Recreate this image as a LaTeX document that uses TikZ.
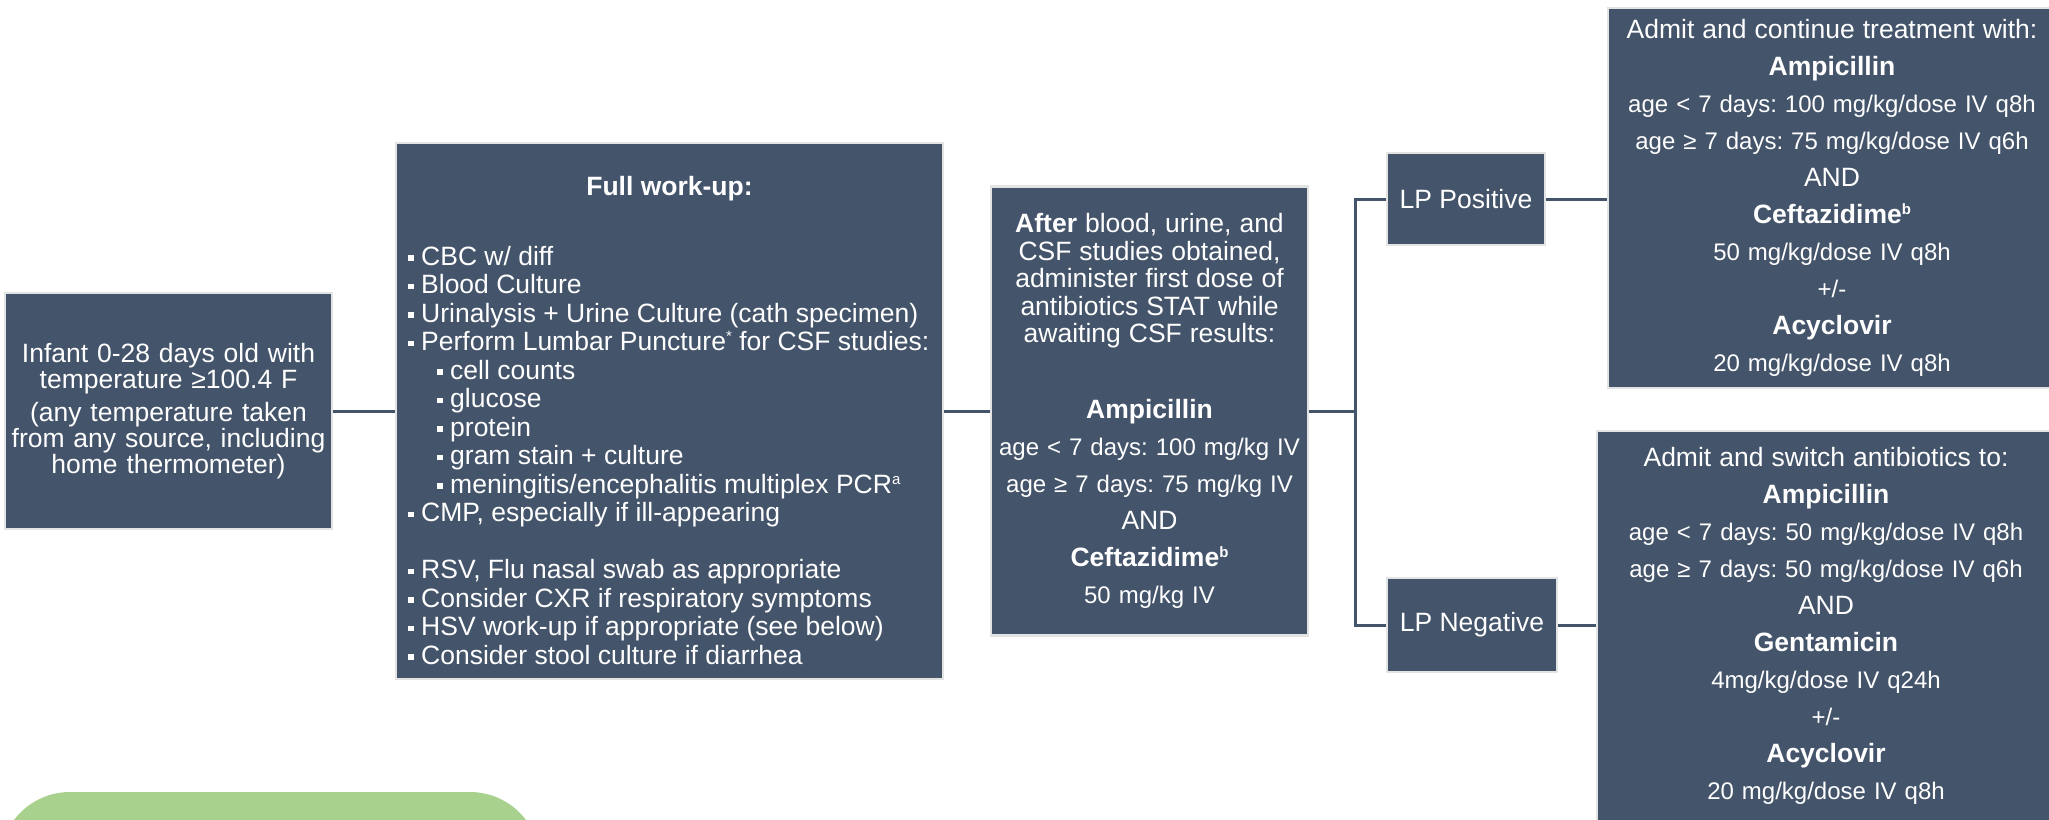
\documentclass[tikz,border=0pt]{standalone}
\usepackage{fontspec}
\setmainfont{Liberation Sans}
\usetikzlibrary{positioning}
\definecolor{slate}{HTML}{44546A}
\definecolor{rim}{HTML}{E3E3E3}
\definecolor{leaf}{HTML}{A9D18E}
\frenchspacing
\newcommand{\sqb}{\rule[4.5pt]{5.5pt}{5.5pt}\hspace*{7.5pt}}
\newcommand{\subsq}{\hspace*{29pt}\sqb}
\newcommand{\sups}[1]{\raisebox{9pt}{\fontsize{15}{15}\selectfont #1}}
\newcommand{\bigline}[1]{{\fontsize{26.5}{37}\selectfont #1}}
\begin{document}
\begin{tikzpicture}[x=1pt,y=-1pt,
    box/.style={draw=rim,line width=2.5pt,fill=slate,text=white,inner sep=0pt,
      execute at begin node={\parindent=0pt\frenchspacing}},
    link/.style={draw=slate,line width=3pt}]
    \useasboundingbox (0,0) rectangle (2049,819);

    \fill[leaf,rounded corners=70pt] (0,792) rectangle (540,890);

    \coordinate (split) at (1355,411);

    \node[box,minimum width=327pt,minimum height=236pt,text width=322pt,align=center,
      font=\fontsize{26.5}{26}\selectfont] (infant) at (168.5,411)
      {Infant 0-28 days old with\\temperature ≥100.4 F\\[7pt](any temperature taken\\from any source, including\\home thermometer)};

    \node[box,minimum width=547pt,minimum height=536pt] (workup) at (669.5,411) {};
    \node[text=white,inner sep=0pt,font=\fontsize{26.5}{28.5}\selectfont\bfseries] (workuphead) at (669.5,189) {Full work-up:};
    \node[text=white,inner sep=0pt,anchor=north west,align=left,font=\fontsize{26.5}{28.5}\selectfont] (worklist) at (408,246)
      {\sqb CBC w/ diff\\
       \sqb Blood Culture\\
       \sqb Urinalysis + Urine Culture (cath specimen)\\
       \sqb Perform Lumbar Puncture\sups{*} for CSF studies:\\
       \subsq cell counts\\
       \subsq glucose\\
       \subsq protein\\
       \subsq gram stain + culture\\
       \subsq meningitis/encephalitis multiplex PCR\sups{a}\\
       \sqb CMP, especially if ill-appearing\\[28.5pt]
       \sqb RSV, Flu nasal swab as appropriate\\
       \sqb Consider CXR if respiratory symptoms\\
       \sqb HSV work-up if appropriate (see below)\\
       \sqb Consider stool culture if diarrhea};

    \node[box,minimum width=317pt,minimum height=449pt,text width=310pt,align=center,
      font=\fontsize{24}{37}\selectfont] (firstdose) at (1149.5,411)
      {{\fontsize{26.5}{27.5}\selectfont\textbf{After} blood, urine, and\\CSF studies obtained,\\administer first dose of\\antibiotics STAT while\\awaiting CSF results:\par}
       \vspace{39pt}
       \bigline{\bfseries Ampicillin}\\
       age < 7 days: 100 mg/kg IV\\
       age ≥ 7 days: 75 mg/kg IV\\
       \bigline{AND}\\
       \bigline{\bfseries Ceftazidime\sups{b}}\\
       50 mg/kg IV};

    \node[box,minimum width=158pt,minimum height=92pt,font=\fontsize{26.5}{30}\selectfont] (lppos) at (1466,199) {LP Positive};
    \node[box,minimum width=170pt,minimum height=94pt,font=\fontsize{26.5}{30}\selectfont] (lpneg) at (1472,625) {LP Negative};

    \node[box,minimum width=448pt,minimum height=380pt,text width=440pt,align=center,
      font=\fontsize{24}{37}\selectfont] (keepon) at (1832,198)
      {\bigline{Admit and continue treatment with:}\\
       \bigline{\bfseries Ampicillin}\\
       age < 7 days: 100 mg/kg/dose IV q8h\\
       age ≥ 7 days: 75 mg/kg/dose IV q6h\\
       \bigline{AND}\\
       \bigline{\bfseries Ceftazidime\sups{b}}\\
       50 mg/kg/dose IV q8h\\
       +/-\\
       \bigline{\bfseries Acyclovir}\\
       20 mg/kg/dose IV q8h};

    \node[box,minimum width=458pt,minimum height=390pt,text width=440pt,align=center,
      font=\fontsize{24}{37}\selectfont] (switchto) at (1826,626)
      {\bigline{Admit and switch antibiotics to:}\\
       \bigline{\bfseries Ampicillin}\\
       age < 7 days: 50 mg/kg/dose IV q8h\\
       age ≥ 7 days: 50 mg/kg/dose IV q6h\\
       \bigline{AND}\\
       \bigline{\bfseries Gentamicin}\\
       4mg/kg/dose IV q24h\\
       +/-\\
       \bigline{\bfseries Acyclovir}\\
       20 mg/kg/dose IV q8h};

    \draw[link] (infant.east) -- (workup.west);
    \draw[link] (workup.east) -- (firstdose.west);
    \draw[link] (firstdose.east) -- (split);
    \draw[link] (lppos.west) -| (split) |- (lpneg.west);
    \draw[link] (lppos.east) -- (lppos.east -| keepon.west);
    \draw[link] (lpneg.east) -- (lpneg.east -| switchto.west);
\end{tikzpicture}
\end{document}
